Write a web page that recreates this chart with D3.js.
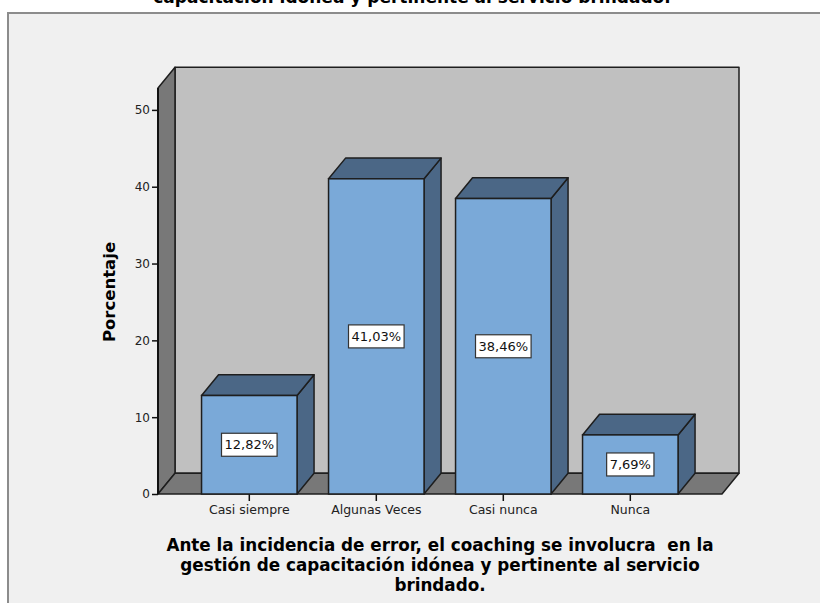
<!DOCTYPE html>
<html>
<head>
<meta charset="utf-8">
<script src="https://cdn.jsdelivr.net/npm/d3@7/dist/d3.min.js"></script>
<style>
  html, body { margin: 0; padding: 0; background: #ffffff; }
  svg { display: block; }
</style>
</head>
<body>
<svg id="chart" width="820" height="603"></svg>
<script>
// Response categories and their percentages
const categories = ["Casi siempre", "Algunas Veces", "Casi nunca", "Nunca"];
const percentages = [12.82, 41.03, 38.46, 7.69];
const valueLabels = ["12,82%", "41,03%", "38,46%", "7,69%"];
const yTicks = [0, 10, 20, 30, 40, 50];
const titleTop = "capacitación idónea y pertinente al servicio brindado.";
const xTitleLines = [
  "Ante la incidencia de error, el coaching se involucra\u00a0 en la",
  "gestión de capacitación idónea y pertinente al servicio",
  "brindado."
];
const yTitle = "Porcentaje";

const svg = d3.select("#chart");

// Layout of the pseudo-3D box
const front = { left: 158, right: 722, bottom: 494, top: 88 };
const depth = { dx: 17, dy: -20.7 };
const yMax = 52.85;

const y = d3.scaleLinear().domain([0, yMax]).range([front.bottom, front.top]);
const x = d3.scaleBand()
  .domain(categories)
  .range([185.8, 693.8])
  .paddingInner(0.248)
  .paddingOuter(0.124);

const colors = {
  page: "#f0f0f0",
  frame: "#8c8c8c",
  wall: "#c0c0c0",
  floor: "#787878",
  barFront: "#7aa9d8",
  barDark: "#4b6786",
  edge: "#1e1e1e"
};

const titleFont = "DejaVu Sans, sans-serif";
const labelFont = "DejaVu Sans, sans-serif";

// Chart frame
svg.append("rect")
  .attr("x", 8).attr("y", 13)
  .attr("width", 830).attr("height", 610)
  .attr("fill", colors.page)
  .attr("stroke", colors.frame)
  .attr("stroke-width", 2);

// Main title (runs off the top)
svg.append("text")
  .attr("x", 412).attr("y", 3)
  .attr("text-anchor", "middle")
  .attr("font-family", titleFont)
  .attr("font-weight", "bold")
  .attr("font-size", 17)
  .attr("fill", "#000")
  .text(titleTop);

const line = d3.line();
const y0 = y(0), yT = y(yMax);
const bx0 = front.left + depth.dx, bx1 = front.right + depth.dx;
const by0 = y0 + depth.dy, byT = yT + depth.dy;

// Back wall
svg.append("path")
  .attr("d", line([[bx0, byT], [bx1, byT], [bx1, by0], [bx0, by0]]) + "Z")
  .attr("fill", colors.wall)
  .attr("stroke", colors.edge)
  .attr("stroke-width", 1.5)
  .attr("stroke-linejoin", "round");

// Left side wall
svg.append("path")
  .attr("d", line([[front.left, yT], [bx0, byT], [bx0, by0], [front.left, y0]]) + "Z")
  .attr("fill", colors.floor)
  .attr("stroke", colors.edge)
  .attr("stroke-width", 1.5)
  .attr("stroke-linejoin", "round");

// Floor
svg.append("path")
  .attr("d", line([[front.left, y0], [bx0, by0], [bx1, by0], [front.right, y0]]) + "Z")
  .attr("fill", colors.floor)
  .attr("stroke", colors.edge)
  .attr("stroke-width", 1.5)
  .attr("stroke-linejoin", "round");

// Y axis with ticks
const yAxis = d3.axisLeft(y)
  .tickValues(yTicks)
  .tickSize(6)
  .tickPadding(2)
  .tickFormat(d3.format("d"));

const yAxisG = svg.append("g")
  .attr("transform", `translate(${front.left},0)`)
  .call(yAxis);
yAxisG.select(".domain")
  .attr("d", `M0,${yT}V${y0}`)
  .attr("stroke", "#111")
  .attr("stroke-width", 2);
yAxisG.selectAll(".tick line").attr("stroke", "#111").attr("stroke-width", 1.5);
yAxisG.selectAll(".tick text")
  .attr("font-family", labelFont)
  .attr("font-size", 12)
  .attr("fill", "#222");

// X axis ticks and category labels
const xAxis = d3.axisBottom(x).tickSize(7).tickPadding(4);
const xAxisG = svg.append("g")
  .attr("transform", `translate(0,${y0})`)
  .call(xAxis);
xAxisG.select(".domain").remove();
xAxisG.selectAll(".tick line").attr("stroke", "#111").attr("stroke-width", 1.5);
xAxisG.selectAll(".tick text")
  .attr("font-family", labelFont)
  .attr("font-size", 12.5)
  .attr("fill", "#222");

// 3D bars
const bars = svg.append("g").selectAll("g")
  .data(categories.map((c, i) => ({ c, v: percentages[i], label: valueLabels[i] })))
  .join("g");

bars.each(function(d) {
  const g = d3.select(this);
  const l = x(d.c), r = x(d.c) + x.bandwidth();
  const t = y(d.v), b = y(0);
  // side face
  g.append("path")
    .attr("d", line([[r, t], [r + depth.dx, t + depth.dy], [r + depth.dx, b + depth.dy], [r, b]]) + "Z")
    .attr("fill", colors.barDark)
    .attr("stroke", colors.edge)
    .attr("stroke-width", 1.5)
    .attr("stroke-linejoin", "round");
  // top face
  g.append("path")
    .attr("d", line([[l, t], [l + depth.dx, t + depth.dy], [r + depth.dx, t + depth.dy], [r, t]]) + "Z")
    .attr("fill", colors.barDark)
    .attr("stroke", colors.edge)
    .attr("stroke-width", 1.5)
    .attr("stroke-linejoin", "round");
  // front face
  g.append("rect")
    .attr("x", l).attr("y", t)
    .attr("width", r - l).attr("height", b - t)
    .attr("fill", colors.barFront)
    .attr("stroke", colors.edge)
    .attr("stroke-width", 1.5);

  // value label box
  const cx = (l + r) / 2, cy = y(d.v / 2);
  const txt = g.append("text")
    .attr("x", cx).attr("y", cy)
    .attr("text-anchor", "middle")
    .attr("dominant-baseline", "central")
    .attr("font-family", labelFont)
    .attr("font-size", 13)
    .attr("fill", "#111")
    .text(d.label);
  const w = txt.node().getComputedTextLength() + 6;
  g.insert("rect", "text")
    .attr("x", cx - w / 2).attr("y", cy - 11.5)
    .attr("width", w).attr("height", 23)
    .attr("fill", "#ffffff")
    .attr("stroke", "#333")
    .attr("stroke-width", 1.2);
});

// Y axis title
svg.append("text")
  .attr("transform", "translate(115,292) rotate(-90)")
  .attr("text-anchor", "middle")
  .attr("font-family", titleFont)
  .attr("font-weight", "bold")
  .attr("font-size", 16.5)
  .attr("fill", "#000")
  .text(yTitle);

// X axis title (three lines)
svg.append("g").selectAll("text")
  .data(xTitleLines)
  .join("text")
  .attr("x", (front.left + front.right) / 2)
  .attr("y", (d, i) => 551 + i * 20)
  .attr("text-anchor", "middle")
  .attr("font-family", titleFont)
  .attr("font-weight", "bold")
  .attr("font-size", 16.8)
  .attr("fill", "#000")
  .text(d => d);
</script>
</body>
</html>
